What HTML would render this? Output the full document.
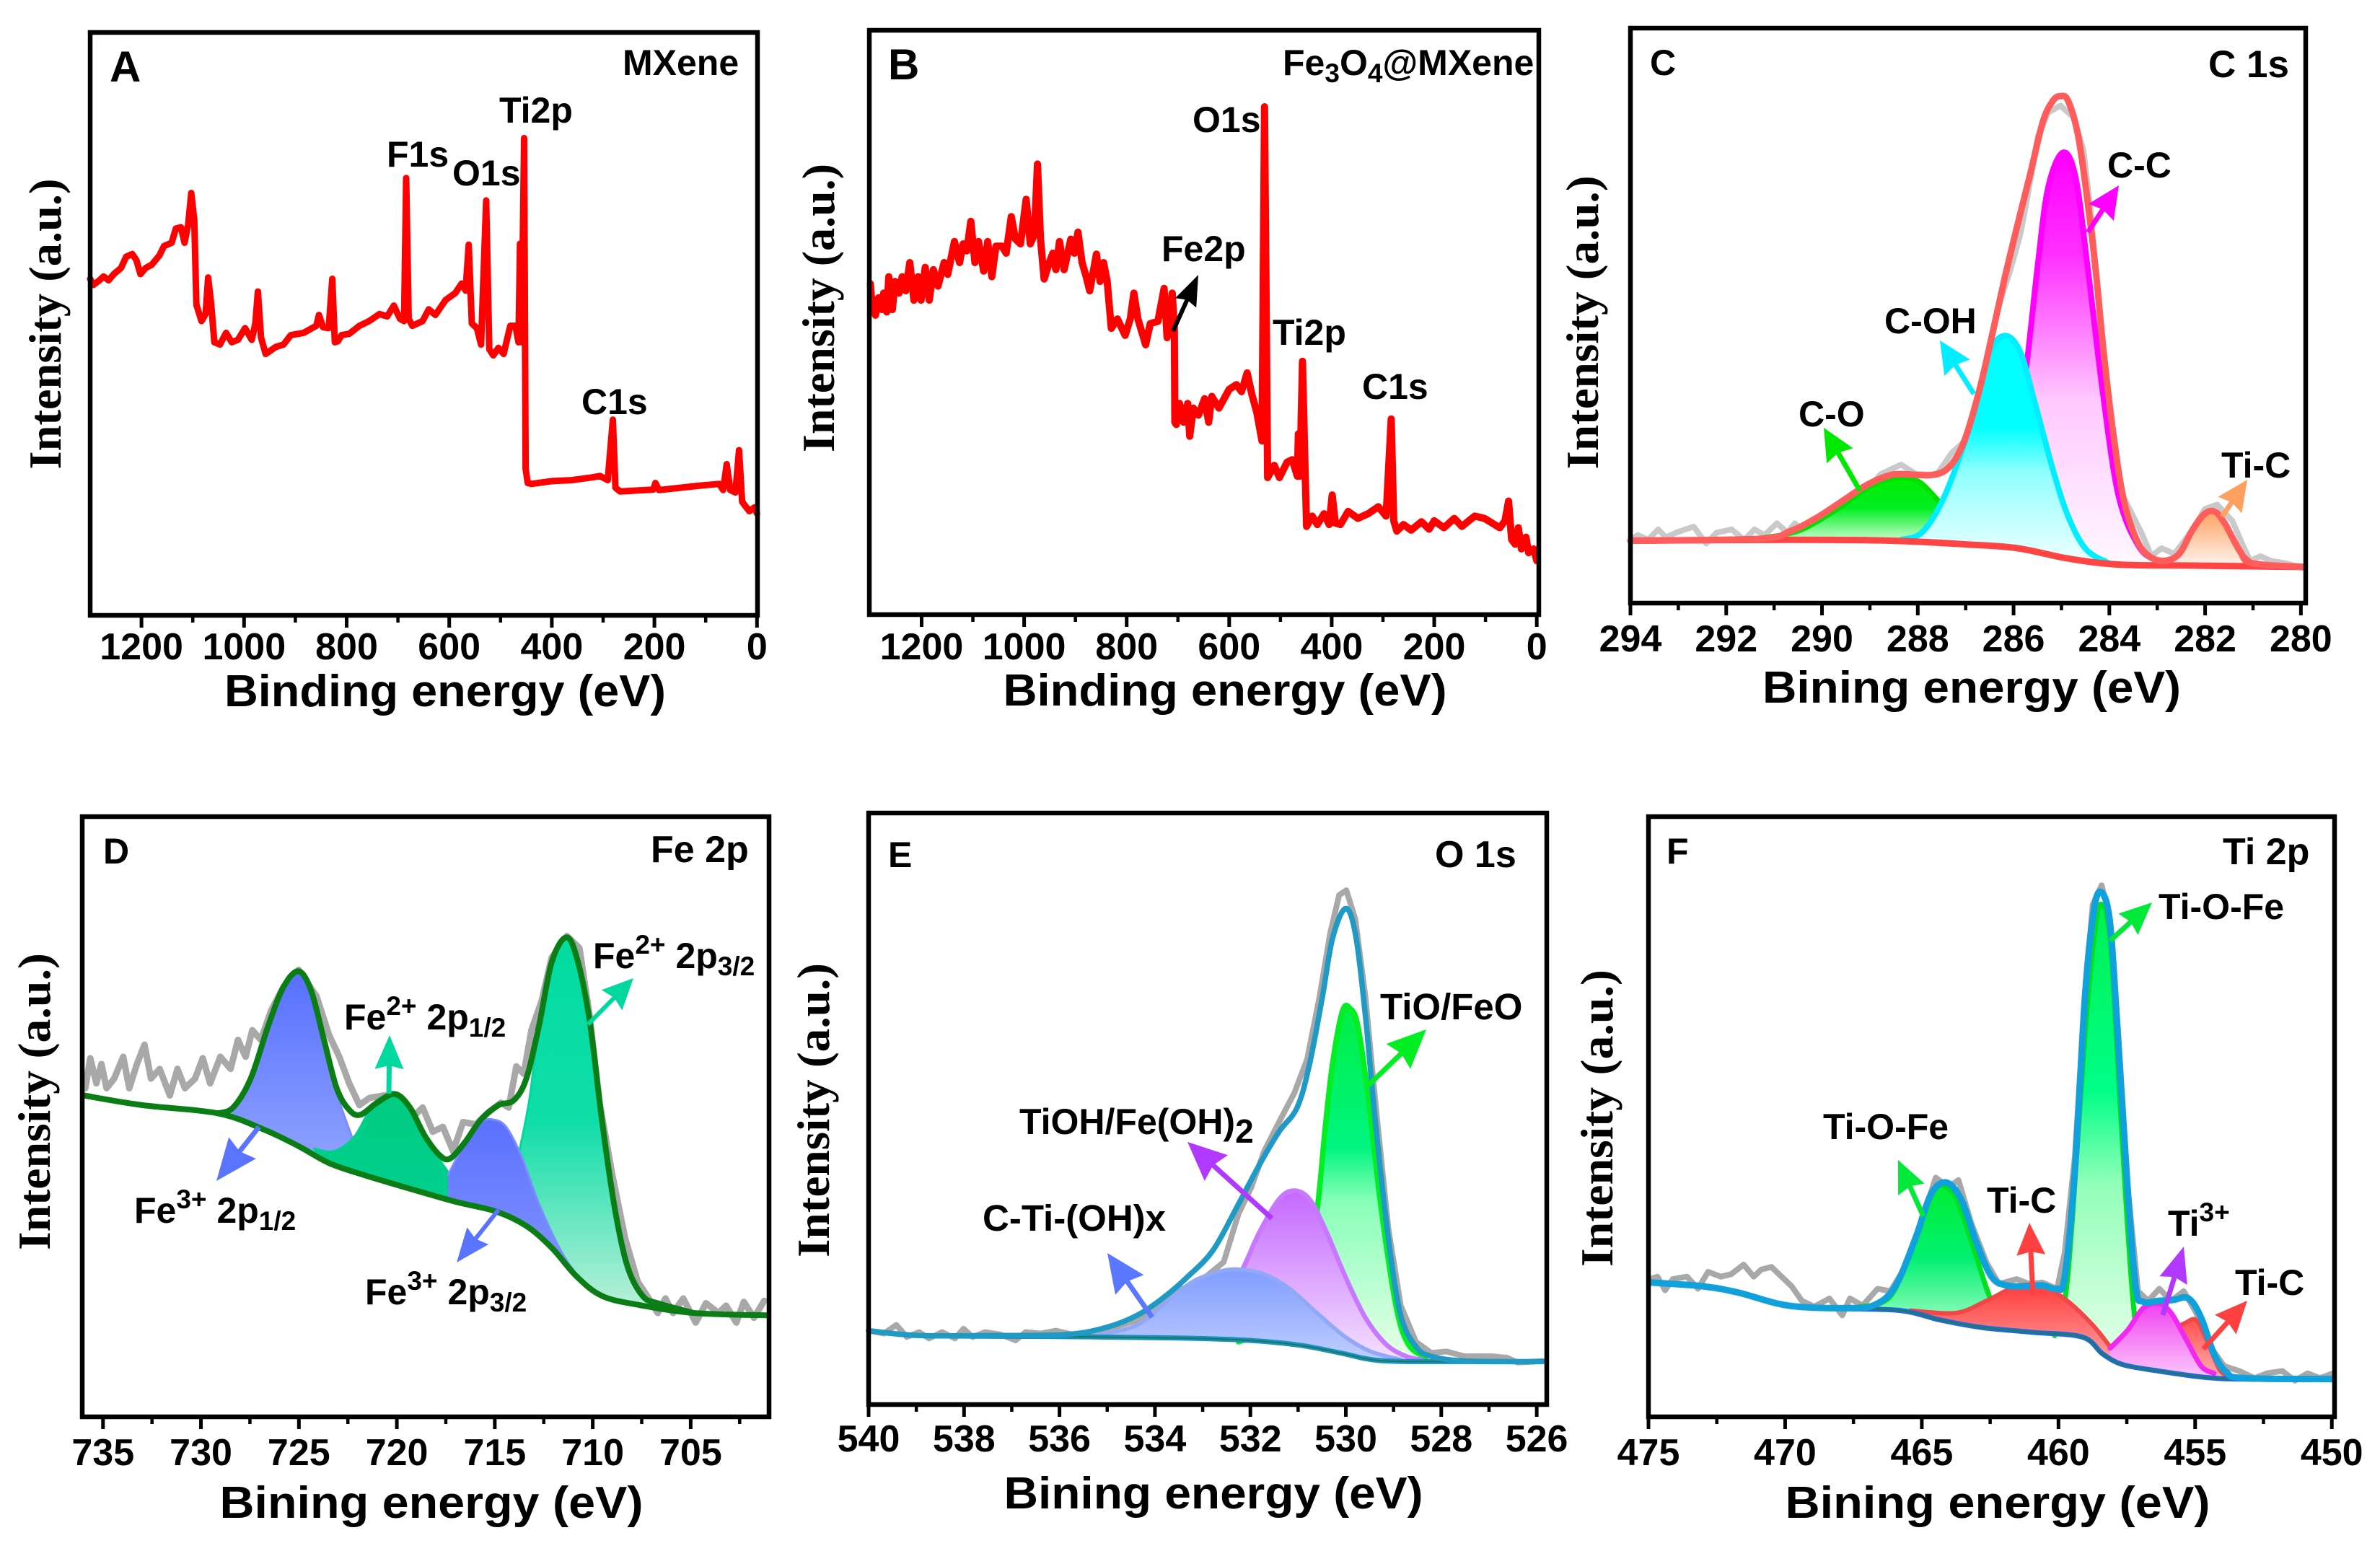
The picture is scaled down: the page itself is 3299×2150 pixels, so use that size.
<!DOCTYPE html>
<html lang="en">
<head>
<meta charset="utf-8">
<title>XPS spectra of MXene and Fe3O4@MXene</title>
<style>
html,body{margin:0;padding:0;background:#fff;}
svg{display:block;position:absolute;left:0;top:0;}
text{font-family:"Liberation Sans",sans-serif;font-weight:bold;fill:#000;}
.y{font-family:"Liberation Serif",serif;font-size:64px;}
.t{font-size:62px;}
.l{font-size:50px;}
.s{font-size:37px;}
</style>
</head>
<body>
<svg id="chart" xmlns="http://www.w3.org/2000/svg" width="3299" height="2150" viewBox="0 0 3299 2150">
<rect x="0" y="0" width="3299" height="2150" fill="#fff"/>
<defs id="defs"></defs>
<g id="layer"></g>
<g id="labels">
<!-- Panel A -->
<text x="152" y="113" style="font-size:60px">A</text>
<text x="863" y="104" class="l">MXene</text>
<text x="692" y="170" class="l">Ti2p</text>
<text x="536" y="231" class="l">F1s</text>
<text x="627" y="257" class="l">O1s</text>
<text x="806" y="574" class="l">C1s</text>
<text x="617" y="979" class="t" text-anchor="middle" textLength="612" lengthAdjust="spacingAndGlyphs">Binding energy (eV)</text>
<text class="y" text-anchor="middle" transform="translate(84 449) rotate(-90)" textLength="403" lengthAdjust="spacingAndGlyphs">Intensity (a.u.)</text>
<!-- Panel B -->
<text x="1231" y="110" style="font-size:60px">B</text>
<text x="1778" y="104" class="l">Fe<tspan class="s" dy="10">3</tspan><tspan dy="-10">O</tspan><tspan class="s" dy="10">4</tspan><tspan dy="-10">@MXene</tspan></text>
<text x="1653" y="183" class="l">O1s</text>
<text x="1610" y="362" class="l">Fe2p</text>
<text x="1764" y="478" class="l">Ti2p</text>
<text x="1888" y="553" class="l">C1s</text>
<text x="1698" y="978" class="t" text-anchor="middle" textLength="615" lengthAdjust="spacingAndGlyphs">Binding energy (eV)</text>
<text class="y" text-anchor="middle" transform="translate(1156 427) rotate(-90)" textLength="400" lengthAdjust="spacingAndGlyphs">Intensity (a.u.)</text>
<!-- Panel C -->
<text x="2287" y="104" class="l">C</text>
<text x="3061" y="107" style="font-size:53px">C 1s</text>
<text x="2921" y="246" class="l">C-C</text>
<text x="2612" y="462" class="l">C-OH</text>
<text x="2493" y="591" class="l">C-O</text>
<text x="3079" y="662" class="l">Ti-C</text>
<text x="2733" y="974" class="t" text-anchor="middle" textLength="580" lengthAdjust="spacingAndGlyphs">Bining energy (eV)</text>
<text class="y" text-anchor="middle" transform="translate(2215 447) rotate(-90)" textLength="407" lengthAdjust="spacingAndGlyphs">Intensity (a.u.)</text>
<!-- Panel D -->
<text x="143" y="1197" class="l">D</text>
<text x="902" y="1195" style="font-size:52px">Fe 2p</text>
<text x="822" y="1342" class="l">Fe<tspan class="s" dy="-20">2+</tspan><tspan dy="20"> 2p</tspan><tspan class="s" dy="10">3/2</tspan></text>
<text x="477" y="1427" class="l">Fe<tspan class="s" dy="-20">2+</tspan><tspan dy="20"> 2p</tspan><tspan class="s" dy="10">1/2</tspan></text>
<text x="186" y="1695" class="l">Fe<tspan class="s" dy="-20">3+</tspan><tspan dy="20"> 2p</tspan><tspan class="s" dy="10">1/2</tspan></text>
<text x="506" y="1808" class="l">Fe<tspan class="s" dy="-20">3+</tspan><tspan dy="20"> 2p</tspan><tspan class="s" dy="10">3/2</tspan></text>
<text x="598" y="2104" class="t" text-anchor="middle" textLength="587" lengthAdjust="spacingAndGlyphs">Bining energy (eV)</text>
<text class="y" text-anchor="middle" transform="translate(69 1527) rotate(-90)" textLength="412" lengthAdjust="spacingAndGlyphs">Intensity (a.u.)</text>
<!-- Panel E -->
<text x="1231" y="1202" class="l">E</text>
<text x="1989" y="1202" style="font-size:52px">O 1s</text>
<text x="1913" y="1413" style="font-size:51px">TiO/FeO</text>
<text x="1413" y="1572" class="l">TiOH/Fe(OH)<tspan dy="12" style="font-size:46px">2</tspan></text>
<text x="1362" y="1706" style="font-size:51px">C-Ti-(OH)x</text>
<text x="1682" y="2091" class="t" text-anchor="middle" textLength="581" lengthAdjust="spacingAndGlyphs">Bining energy (eV)</text>
<text class="y" text-anchor="middle" transform="translate(1149 1539) rotate(-90)" textLength="408" lengthAdjust="spacingAndGlyphs">Intensity (a.u.)</text>
<!-- Panel F -->
<text x="2310" y="1197" class="l">F</text>
<text x="3081" y="1198" style="font-size:52px">Ti 2p</text>
<text x="2992" y="1274" class="l">Ti-O-Fe</text>
<text x="2527" y="1579" class="l">Ti-O-Fe</text>
<text x="2754" y="1681" class="l">Ti-C</text>
<text x="3005" y="1713" class="l">Ti<tspan class="s" dy="-20">3+</tspan></text>
<text x="3098" y="1795" class="l">Ti-C</text>
<text x="2769" y="2104" class="t" text-anchor="middle" textLength="589" lengthAdjust="spacingAndGlyphs">Bining energy (eV)</text>
<text class="y" text-anchor="middle" transform="translate(2235 1550) rotate(-90)" textLength="412" lengthAdjust="spacingAndGlyphs">Intensity (a.u.)</text>
</g>
</svg>
<script>
// ---------- Panel A data ----------
const aEnergy=[1300,1294,1284,1274,1264,1254,1240,1230,1218,1210,1202,1192,1180,1165,1156,1141,1133,1123,1116,1109,1103,1097,1093,1083,1075,1070,1064,1058,1047,1035,1024,1012,998,985,978,973,967,958,938,923,909,884,859,854,846,835,828,823,817,810,795,775,756,736,721,708,696,688,684,679,672,652,640,627,607,588,576,568,562,556,546,538,528,522,514,504,494,481,471,465,462,459,454,451,447,440,400,361,321,306,291,281,276,267,202,198,191,114,74,66,59,52,42,35,29,15,5,0];
const aIntensity=[717,704,712,722,714,727,740,764,770,757,727,740,747,767,787,794,824,827,794,832,900,842,662,627,642,720,662,582,577,602,582,587,612,587,622,690,592,557,572,577,597,602,617,640,614,612,717,582,584,597,600,617,627,642,637,660,632,627,932,632,617,627,652,640,672,687,707,692,790,622,612,577,884,567,554,570,557,617,617,582,792,582,1017,312,282,280,286,288,294,297,288,417,272,264,268,282,267,276,280,267,322,267,262,352,242,222,230,217];

// ---------- Panel B data ----------
const bEnergy=[1300,1296,1290,1284,1278,1274,1268,1264,1257,1252,1244,1238,1231,1223,1215,1207,1201,1193,1185,1177,1168,1156,1149,1136,1126,1119,1112,1104,1096,1089,1079,1071,1063,1055,1043,1035,1025,1017,1007,996,988,980,974,968,961,951,944,938,931,922,909,902,895,887,879,872,859,852,845,838,830,818,803,793,786,778,763,754,739,727,721,711,707,706,703,697,689,681,677,670,660,648,640,634,620,600,586,576,565,556,546,536,531,525,512,502,487,477,467,465,462,457,452,449,438,428,415,405,399,393,383,368,349,329,309,294,284,279,273,260,245,225,210,200,181,161,146,121,102,72,62,55,49,42,36,30,21,16,6,0];
const bIntensity=[705,650,638,675,650,685,645,720,650,710,685,720,690,750,670,720,670,740,670,735,700,750,725,795,750,790,775,838,750,795,732,795,720,785,785,770,848,800,790,885,790,810,960,800,715,750,770,735,795,735,800,770,815,750,720,690,768,710,750,710,610,630,595,630,685,630,575,620,625,695,590,685,610,410,405,450,410,450,380,440,425,460,410,465,440,480,490,475,515,470,430,370,1082,292,318,292,325,330,295,385,295,540,310,188,210,192,215,192,255,195,192,220,205,215,230,210,417,200,178,192,180,198,182,200,185,205,188,210,205,185,200,242,160,150,185,140,165,132,140,115];

// ---------- Panel C data ----------
const cRawEnergy=[294,293.84,293.63,293.42,293.26,293.05,292.68,292.42,292.2,291.89,291.62,291.41,291.2,290.94,290.72,290.57,290.35,290.14,289.83,289.4,289.09,288.77,288.35,288.03,287.61,287.29,286.97,286.66,286.34,286.08,285.86,285.71,285.49,285.28,285.02,284.75,284.54,284.38,284.23,284.01,283.7,283.33,283.12,282.91,282.64,282.27,282.01,281.75,281.43,281.22,281.06,280.84,280.63,280.32,279.95];
const cRawIntensity=[135,145,135,157,140,150,163,127,150,157,135,157,145,170,150,170,150,173,190,217,240,275,295,275,273,320,350,455,625,705,785,865,995,1045,1060,1035,965,825,645,385,225,150,100,117,105,155,200,210,175,125,90,100,90,85,75];
const cFitEnergy=[294,291.31,290.67,290.14,289.61,289.09,288.66,288.35,287.71,287.34,287.03,286.71,286.44,286.18,285.92,285.65,285.39,285.18,285.02,284.86,284.65,284.44,284.28,284.12,283.91,283.7,283.43,283.17,282.85,282.54,282.27,282.01,281.8,281.59,281.27,281.01,279.95];
const cFitIntensity=[133,137,153,180,215,250,270,275,273,290,345,455,575,695,805,915,1025,1070,1080,1070,995,845,705,535,355,220,135,100,90,105,155,190,195,170,110,85,77];
const cBaseEnergy=[294,290.67,288.56,286.97,285.92,284.86,283.8,282.22,279.95];
const cBaseIntensity=[133,135,133,125,117,95,82,80,77];
const cCOEnergy=[291.31,290.46,289.61,288.98,288.56,288.24,287.92,287.5,287.29,286.66];
const cCOIntensity=[138,155,205,250,265,267,255,210,185,135];
const cCCEnergy=[286.87,286.44,286.02,285.73,285.49,285.28,284.97,284.7,284.44,284.12,283.8,283.38,283.01];
const cCCIntensity=[130,155,285,505,725,885,960,905,705,435,225,120,90];
const cCOHEnergy=[288.35,287.92,287.5,287.08,286.76,286.5,286.18,285.86,285.55,285.18,284.86,284.49,284.01];
const cCOHIntensity=[135,150,215,325,435,535,570,535,425,285,185,115,85];
const cTiCEnergy=[282.91,282.54,282.27,282.01,281.8,281.59,281.27,281.01];
const cTiCIntensity=[90,105,155,190,195,170,110,85];

// ---------- Panel D data ----------
const dRawEnergy=[735.9,735.65,735.34,735.08,734.82,734.43,733.97,733.66,733.27,732.88,732.55,732.11,731.59,731.2,730.82,730.3,729.91,729.53,729.01,728.49,728.11,727.72,727.38,726.94,726.43,725.78,725.01,724.1,723.46,722.94,722.43,721.91,721.39,720.62,719.84,719.2,718.68,718.17,717.65,717.13,716.62,715.97,715.33,714.68,714.29,713.9,713.52,713.13,712.61,712.1,711.32,710.68,710.16,709.65,709,708.35,707.71,707.06,706.68,706.29,705.9,705.38,704.74,704.22,703.58,703.19,702.67,702.29,701.77,701.25];
const dRawIntensity=[680,742,690,730,680,700,745,680,730,770,700,720,665,720,680,700,742,690,745,720,780,745,800,780,840,890,925,870,790,745,690,645,660,665,660,620,640,590,600,550,610,605,630,650,640,725,710,800,860,950,995,970,830,650,500,370,280,240,215,245,215,245,195,235,215,230,195,238,205,240];
const dBaseEnergy=[735.98,733.01,729.14,726.82,725.01,723.46,721.65,719.59,717,714.94,713.39,712.1,710.81,709.52,707.71,704.87,701.12];
const dBaseIntensity=[665,645,628,595,560,525,500,475,445,425,395,350,290,250,232,215,210];
const dFitEnergy=[729.14,728.36,727.46,726.56,725.78,725.01,724.36,723.72,723.07,722.43,721.86,721.01,720.1,719.33,718.55,717.78,717.26,716.49,715.71,714.81,714.03,713.39,712.74,712.1,711.37,710.81,710.16,709.52,708.87,708.22,707.45,706.68,704.87];
const dFitIntensity=[628,640,700,810,890,922,880,780,680,635,625,650,668,640,580,540,535,570,615,645,655,700,810,940,992,950,820,610,430,310,250,235,215];
const dFe3p12Energy=[729.14,728.36,727.46,726.56,725.78,725.01,724.36,723.72,723.07,722.17,721.65];
const dFe3p12Intensity=[628,640,700,810,890,922,880,780,670,565,500];
const dFe2p12Energy=[724.23,723.2,722.17,721.14,720.1,719.33,718.55,717.26,716.23,715.2];
const dFe2p12Intensity=[555,550,580,650,668,640,580,500,455,432];
const dFe3p32Energy=[717.39,716.49,715.71,715.07,714.42,713.65,712.74,711.58,710.55];
const dFe3p32Intensity=[500,570,610,615,600,540,440,340,280];
const dFe2p32Energy=[713.9,713.26,712.74,712.1,711.37,710.81,710.16,709.52,708.87,708.22,707.45,706.8];
const dFe2p32Intensity=[520,650,810,940,992,950,820,610,430,310,250,235];

// ---------- Panel E data ----------
const eRawEnergy=[540,539.68,539.42,539.2,538.94,538.73,538.46,538.19,538.01,537.82,537.56,537.24,536.92,536.71,536.39,536.07,535.64,535.01,534.37,533.84,533.41,532.99,532.56,532.25,531.98,531.71,531.4,531.08,530.81,530.55,530.33,530.14,529.99,529.8,529.59,529.38,529.11,528.85,528.53,528.21,527.89,527.52,526.93,526.62,526.4,525.87];
const eRawIntensity=[153,147,165,140,150,137,150,137,157,140,150,145,133,150,147,153,143,155,175,210,240,260,295,395,450,525,585,645,715,845,975,1055,1065,1005,845,625,365,205,130,107,110,100,100,97,87,90];
const eFitEnergy=[540,538.94,537.34,535.86,535.01,534.37,533.84,533.31,532.78,532.25,531.82,531.4,531.02,530.76,530.49,530.28,530.01,529.8,529.59,529.38,529.11,528.85,528.53,528.21,527.47,525.82];
const eFitIntensity=[153,143,143,145,160,185,220,265,320,415,495,565,615,705,845,965,1027,975,805,585,345,185,120,100,90,89];
const eBaseEnergy=[540,538.94,536.28,533.63,532.03,530.97,530.12,529.27,527.78,525.82];
const eBaseIntensity=[153,143,141,138,133,123,107,91,89,89];
const eTiOEnergy=[532.25,531.4,530.86,530.6,530.44,530.28,530.07,529.91,529.75,529.54,529.27,528.95,528.69,528.32];
const eTiOIntensity=[130,165,265,405,565,705,815,820,785,645,415,205,125,97];
const eTiOHEnergy=[533.52,532.56,532.14,531.82,531.4,531.08,530.76,530.44,530.01,529.59,529.16,528.74,528.42];
const eTiOHIntensity=[138,205,285,355,425,443,425,365,265,180,125,100,93];
const eCTiEnergy=[535.22,534.37,533.73,533.2,532.67,532.25,531.71,531.18,530.55,530.01,529.48,528.85];
const eCTiIntensity=[143,165,215,255,275,280,270,240,185,140,110,93];

// ---------- Panel F data ----------
const fRawEnergy=[474.94,474.67,474.39,474.11,473.59,473.19,472.82,472.35,471.98,471.52,471.15,470.87,470.5,470.13,469.76,469.39,468.93,468.38,467.91,467.63,467.17,466.62,466.15,465.6,465.04,464.49,464.03,463.66,463.19,462.64,462.18,461.53,461.07,460.6,460.05,459.77,459.4,459.03,458.75,458.42,458.11,457.83,457.46,457.09,456.72,456.31,455.88,455.42,454.96,454.5,453.94,453.39,452.83,452.37,451.81,451.35,450.89,450.43,449.96];
const fRawIntensity=[285,290,262,285,290,265,300,290,295,315,290,305,310,290,270,240,228,245,210,245,230,265,260,310,400,495,475,490,400,320,275,285,275,278,265,340,540,870,1060,1100,1030,810,470,260,240,265,240,260,215,150,105,95,80,90,95,75,90,80,90];
const fFitEnergy=[474.94,473,471.71,469.86,467.63,466.71,465.97,465.23,464.67,464.12,463.56,463,462.45,461.9,461.16,460.6,460.05,459.77,459.4,459.03,458.7,458.42,458.11,457.83,457.49,457.18,456.9,456.35,455.79,455.24,454.78,454.31,453.85,453.2,449.96];
const fFitIntensity=[278,270,257,230,225,232,270,370,460,485,450,360,290,272,270,272,265,290,510,870,1050,1085,1020,790,490,270,238,240,242,245,205,130,92,80,78];
const fBaseEnergy=[474.94,473,471.71,469.86,468.01,465.78,464.3,462.82,460.97,459.12,458.38,457.64,456.35,454.68,453.2,449.96];
const fBaseIntensity=[278,270,257,230,224,220,200,185,175,165,130,108,95,82,78,78];
const fTiOFe1Energy=[467.26,466.52,465.97,465.23,464.67,464.16,463.66,463,462.45,461.71];
const fTiOFe1Intensity=[228,235,265,370,460,478,440,330,240,180];
const fTiOFe2Energy=[460.14,459.77,459.49,459.03,458.66,458.42,458.11,457.83,457.49,457.18,456.81];
const fTiOFe2Intensity=[168,240,410,790,1010,1060,990,730,410,190,110];
const fTiC1Energy=[465.41,463.75,462.64,461.53,460.6,459.68,458.75,458.11];
const fTiC1Intensity=[220,215,240,270,270,240,190,145];
const fTiC2Energy=[455.98,455.61,455.33,454.96,454.59,454.13,453.85];
const fTiC2Intensity=[110,180,195,200,160,100,85];
const fTi3Energy=[458.11,457.46,456.9,456.35,455.88,455.33,454.78,454.31];
const fTi3Intensity=[142,180,225,235,215,160,105,90];

// ---------- Tick arrays ----------
const surveyMajorTicks=[1200,1000,800,600,400,200,0];
const surveyMinorTicks=[1100,900,700,500,300,100];
const cMajorTicks=[294,292,290,288,286,284,282,280];
const cMinorTicks=[293,291,289,287,285,283,281];
const dMajorTicks=[735,730,725,720,715,710,705];
const dMinorTicks=[732.5,727.5,722.5,717.5,712.5,707.5,702.5];
const eMajorTicks=[540,538,536,534,532,530,528,526];
const eMinorTicks=[539,537,535,533,531,529,527];
const fMajorTicks=[475,470,465,460,455,450];
const fMinorTicks=[472.5,467.5,462.5,457.5,452.5];

// ---------- Rendering helpers ----------
const NS='http://www.w3.org/2000/svg';
const layer=document.getElementById('layer');
const defs=document.getElementById('defs');
let gradId=0;

function make(tag,attrs,parent){
  const el=document.createElementNS(NS,tag);
  for(const k in attrs){el.setAttribute(k,attrs[k]);}
  (parent||layer).appendChild(el);
  return el;
}
function scales(p){
  return {
    x:function(e){return p.L+(e-p.eLeft)/(p.eRight-p.eLeft)*(p.R-p.L);},
    y:function(v){return p.B-v/p.yMax*(p.B-p.T);}
  };
}
function toPoints(s,en,inten){
  return en.map(function(e,i){return [s.x(e),s.y(inten[i])];});
}
function polyPath(pts){
  return 'M'+pts.map(function(q){return q[0].toFixed(1)+' '+q[1].toFixed(1);}).join('L');
}
function smoothPath(pts){
  let d='M'+pts[0][0].toFixed(1)+' '+pts[0][1].toFixed(1);
  for(let i=0;i<pts.length-1;i++){
    const a=pts[Math.max(i-1,0)],b=pts[i],c=pts[i+1],e=pts[Math.min(i+2,pts.length-1)];
    d+='C'+(b[0]+(c[0]-a[0])/6).toFixed(1)+' '+(b[1]+(c[1]-a[1])/6).toFixed(1)+' '+(c[0]-(e[0]-b[0])/6).toFixed(1)+' '+(c[1]-(e[1]-b[1])/6).toFixed(1)+' '+c[0].toFixed(1)+' '+c[1].toFixed(1);
  }
  return d;
}
function baseAt(baseE,baseI,e){
  for(let i=0;i<baseE.length-1;i++){
    if(e<=baseE[i]&&e>=baseE[i+1]){
      const t=(baseE[i]-e)/(baseE[i]-baseE[i+1]);
      return baseI[i]+t*(baseI[i+1]-baseI[i]);
    }
  }
  return baseI[baseI.length-1];
}
function gradient(stops){
  const id='g'+(gradId++);
  const g=make('linearGradient',{id:id,x1:0,y1:0,x2:0,y2:1},defs);
  stops.forEach(function(st){make('stop',{offset:st[0],'stop-color':st[1]},g);});
  return id;
}
function drawPeak(p,s,name,en,inten,baseE,baseI,stops,strokeColor,strokeW){
  const pts=toPoints(s,en,inten);
  const first=en[0],last=en[en.length-1];
  const back=[[s.x(last),s.y(baseAt(baseE,baseI,last))]];
  for(let i=baseE.length-1;i>=0;i--){
    if(baseE[i]<first&&baseE[i]>last){back.push([s.x(baseE[i]),s.y(baseI[i])]);}
  }
  back.push([s.x(first),s.y(baseAt(baseE,baseI,first))]);
  let d=smoothPath(pts);
  back.forEach(function(q){d+='L'+q[0].toFixed(1)+' '+q[1].toFixed(1);});
  const fill=make('path',{d:d+'Z',fill:'url(#'+gradient(stops)+')',stroke:'none'});
  
  
  if(strokeW>0){
    const line=make('path',{d:smoothPath(pts),fill:'none',stroke:strokeColor,'stroke-width':strokeW,'stroke-linejoin':'round','stroke-linecap':'round'});
    
    
  }
}
function drawLine(s,name,en,inten,color,width,smooth){
  const pts=toPoints(s,en,inten);
  const el=make('path',{d:smooth?smoothPath(pts):polyPath(pts),fill:'none',stroke:color,'stroke-width':width,'stroke-linejoin':'round','stroke-linecap':'round'});
  
  
}
function drawAxes(p,s,major,minor,labelY,name){
  minor.forEach(function(t){
    const m=make('line',{x1:s.x(t),x2:s.x(t),y1:p.B,y2:p.B+10,stroke:'#000','stroke-width':4.5});
    
    
  });
  major.forEach(function(t){
    const m=make('line',{x1:s.x(t),x2:s.x(t),y1:p.B,y2:p.B+17,stroke:'#000','stroke-width':5});
    
    
    const lab=make('text',{x:s.x(t),y:labelY,'text-anchor':'middle','font-size':52});
    
    
    lab.textContent=String(t);
  });
  const f=make('rect',{x:p.L,y:p.T,width:p.R-p.L,height:p.B-p.T,fill:'none',stroke:'#000','stroke-width':6.5});
  
  
}
function arrow(name,x1,y1,x2,y2,color,shaft,hl,hw){
  const dx=x2-x1,dy=y2-y1,len=Math.sqrt(dx*dx+dy*dy),ux=dx/len,uy=dy/len;
  const nx=x2-ux*hl,ny=y2-uy*hl;
  const g=make('g',{});
  
  
  make('line',{x1:x1,y1:y1,x2:nx,y2:ny,stroke:color,'stroke-width':shaft},g);
  const bx=x2-ux*hl*1.12,by=y2-uy*hl*1.12;
  make('polygon',{points:[x2,y2,bx-uy*hw,by+ux*hw,nx,ny,bx+uy*hw,by-ux*hw].join(' '),fill:color},g);
}

// ---------- Panels ----------
const pA={L:125,R:1050,T:45,B:853,eLeft:1300,eRight:-1,yMax:1242};
const pB={L:1205,R:2133,T:42,B:852,eLeft:1302,eRight:-4,yMax:1245};
const pC={L:2260,R:3196,T:39,B:836,eLeft:294,eRight:279.9,yMax:1225};
const pD={L:114,R:1066,T:1132,B:1964,eLeft:736.06,eRight:701,yMax:1242};
const pE={L:1204,R:2144,T:1127,B:1947,eLeft:540,eRight:525.79,yMax:1225};
const pF={L:2285,R:3236,T:1132,B:1964,eLeft:475,eRight:449.9,yMax:1242};

// Panel A
(function(){
  const s=scales(pA);
  drawLine(s,'mxene-survey-line',aEnergy,aIntensity,'#ff0000',9,false);
  drawAxes(pA,s,surveyMajorTicks,surveyMinorTicks,914,'panel-a');
})();
// Panel B
(function(){
  const s=scales(pB);
  drawLine(s,'fe3o4-mxene-survey-line',bEnergy,bIntensity,'#ff0000',10,false);
  drawAxes(pB,s,surveyMajorTicks,surveyMinorTicks,914,'panel-b');
  arrow('fe2p-arrow',1626,459,1661,381,'#000',6,38,16);
})();
// Panel C
(function(){
  const s=scales(pC);
  drawLine(s,'c1s-raw-line',cRawEnergy,cRawIntensity,'#c9c9c9',8,false);
  drawPeak(pC,s,'c-o-peak',cCOEnergy,cCOIntensity,cBaseEnergy,cBaseIntensity,[[0,'#00ee00'],[0.45,'#00ee22'],[1,'#e8ffe8']],'#00e000',7);
  drawPeak(pC,s,'c-c-peak',cCCEnergy,cCCIntensity,cBaseEnergy,cBaseIntensity,[[0,'#ff00ff'],[0.25,'#ff30ff'],[0.6,'#ffc8ff'],[1,'#fff8ff']],'#ff00ff',8);
  drawPeak(pC,s,'c-oh-peak',cCOHEnergy,cCOHIntensity,cBaseEnergy,cBaseIntensity,[[0,'#00ffff'],[0.4,'#00ffff'],[0.6,'#90ffff'],[1,'#f0ffff']],'#00eeff',8);
  drawPeak(pC,s,'ti-c-peak',cTiCEnergy,cTiCIntensity,cBaseEnergy,cBaseIntensity,[[0,'#ffa060'],[1,'#fff4ee']],'#ff5555',6);
  drawLine(s,'c1s-background-line',cBaseEnergy,cBaseIntensity,'#ff4444',9,true);
  drawLine(s,'c1s-envelope-line',cFitEnergy,cFitIntensity,'#ff5c5c',9,true);
  drawAxes(pC,s,cMajorTicks,cMinorTicks,903,'panel-c');
  arrow('c-c-arrow',2894,322,2937,257,'#ff00ff',7,40,21);
  arrow('c-oh-arrow',2736,546,2689,472,'#00eeff',7,40,21);
  arrow('c-o-arrow',2578,680,2528,593,'#00e800',7,40,21);
  arrow('ti-c-arrow',3080,716,3115,665,'#ffa060',7,38,20);
})();
// Panel D
(function(){
  const s=scales(pD);
  drawLine(s,'fe2p-raw-line',dRawEnergy,dRawIntensity,'#a8a8a8',9,false);
  drawPeak(pD,s,'fe3-2p12-peak',dFe3p12Energy,dFe3p12Intensity,dBaseEnergy,dBaseIntensity,[[0,'#5570ff'],[1,'#93a4ff']],'#7a8cff',3);
  drawPeak(pD,s,'fe2-2p12-peak',dFe2p12Energy,dFe2p12Intensity,dBaseEnergy,dBaseIntensity,[[0,'#00cc80'],[1,'#00d090']],'#00d090',3);
  drawPeak(pD,s,'fe2-2p32-peak',dFe2p32Energy,dFe2p32Intensity,dBaseEnergy,dBaseIntensity,[[0,'#00dca0'],[0.5,'#10dda8'],[1,'#b8f0d8']],'#00d8a0',3);
  drawPeak(pD,s,'fe3-2p32-peak',dFe3p32Energy,dFe3p32Intensity,dBaseEnergy,dBaseIntensity,[[0,'#5a70ff'],[1,'#8494ff']],'#7a8cff',3);
  drawLine(s,'fe2p-background-line',dBaseEnergy,dBaseIntensity,'#0a7d14',8,true);
  drawLine(s,'fe2p-envelope-line',dFitEnergy,dFitIntensity,'#0a7d14',8,true);
  drawAxes(pD,s,dMajorTicks,dMinorTicks,2031,'panel-d');
  arrow('fe2-2p32-arrow',815,1420,878,1356,'#00d8a0',6,38,20);
  arrow('fe2-2p12-arrow',539,1516,540,1435,'#00d8a0',7,42,20);
  arrow('fe3-2p12-arrow',359,1562,300,1637,'#5a74ff',7,52,24);
  arrow('fe3-2p32-arrow',691,1677,633,1750,'#5a74ff',6,42,19);
})();
// Panel E
(function(){
  const s=scales(pE);
  drawLine(s,'o1s-raw-line',eRawEnergy,eRawIntensity,'#a8a8a8',8,false);
  drawPeak(pE,s,'tio-feo-peak',eTiOEnergy,eTiOIntensity,eBaseEnergy,eBaseIntensity,[[0,'#00ee44'],[0.4,'#00f580'],[0.55,'#88ffb8'],[1,'#e8ffe8']],'#00ee22',7.5);
  drawPeak(pE,s,'tioh-feoh2-peak',eTiOHEnergy,eTiOHIntensity,eBaseEnergy,eBaseIntensity,[[0,'#c468ff'],[1,'#f5e0ff']],'#c878ff',6.5);
  drawPeak(pE,s,'c-ti-oh-peak',eCTiEnergy,eCTiIntensity,eBaseEnergy,eBaseIntensity,[[0,'#809cff'],[1,'#c0ceff']],'#90a8f5',5.5);
  drawLine(s,'o1s-background-line',eBaseEnergy,eBaseIntensity,'#1590c8',7,true);
  drawLine(s,'o1s-background-core-line',eBaseEnergy,eBaseIntensity,'#207850',2,true);
  drawLine(s,'o1s-envelope-line',eFitEnergy,eFitIntensity,'#1f9ac4',7.5,true);
  drawAxes(pE,s,eMajorTicks,eMinorTicks,2012,'panel-e');
  arrow('tio-feo-arrow',1893,1508,1977,1427,'#00ee22',7,48,24);
  arrow('tioh-feoh2-arrow',1763,1689,1646,1583,'#b038ff',7,48,24);
  arrow('c-ti-oh-arrow',1597,1826,1535,1737,'#5a78ff',7,48,24);
})();
// Panel F
(function(){
  const s=scales(pF);
  drawLine(s,'ti2p-raw-line',fRawEnergy,fRawIntensity,'#a8a8a8',8,false);
  drawPeak(pF,s,'ti-o-fe-peak-lower',fTiOFe1Energy,fTiOFe1Intensity,fBaseEnergy,fBaseIntensity,[[0,'#00ee33'],[0.5,'#00f070'],[1,'#a8ffc8']],'#00e020',7);
  drawPeak(pF,s,'ti-o-fe-peak-upper',fTiOFe2Energy,fTiOFe2Intensity,fBaseEnergy,fBaseIntensity,[[0,'#00f050'],[0.4,'#00ff88'],[0.6,'#90ffb8'],[1,'#eaffea']],'#00e020',7);
  drawPeak(pF,s,'ti-c-peak-left',fTiC1Energy,fTiC1Intensity,fBaseEnergy,fBaseIntensity,[[0,'#ff3c3c'],[1,'#ff9c9c']],'#f04848',6);
  drawPeak(pF,s,'ti-c-peak-right',fTiC2Energy,fTiC2Intensity,fBaseEnergy,fBaseIntensity,[[0,'#ff5050'],[1,'#ffb0b0']],'#f04848',6);
  drawPeak(pF,s,'ti3-peak',fTi3Energy,fTi3Intensity,fBaseEnergy,fBaseIntensity,[[0,'#f040f0'],[1,'#fcc8fc']],'#f028f0',7);
  drawLine(s,'ti2p-background-line',fBaseEnergy,fBaseIntensity,'#2068e0',7,true);
  drawLine(s,'ti2p-background-core-line',fBaseEnergy,fBaseIntensity,'#208040',2,true);
  drawLine(s,'ti2p-envelope-line',fFitEnergy,fFitIntensity,'#10a0dc',9,true);
  drawAxes(pF,s,fMajorTicks,fMinorTicks,2031,'panel-f');
  arrow('ti-o-fe-arrow-upper',2925,1304,2983,1251,'#00e838',7,40,20);
  arrow('ti-o-fe-arrow-lower',2666,1686,2631,1608,'#00e838',7,40,20);
  arrow('ti-c-arrow-left',2818,1796,2813,1695,'#ff4040',7,40,20);
  arrow('ti3-arrow',2998,1823,3027,1728,'#b038ff',7,44,20);
  arrow('ti-c-arrow-right',3054,1870,3115,1803,'#ff4040',7,40,20);
})();
</script>
</body>
</html>
